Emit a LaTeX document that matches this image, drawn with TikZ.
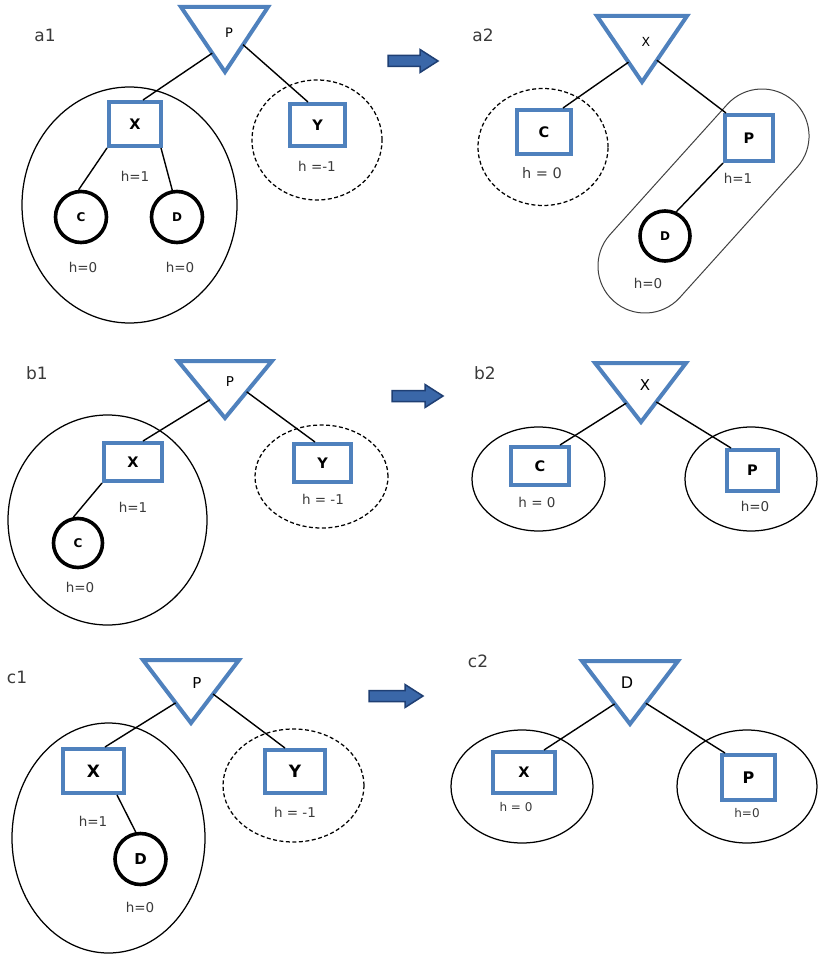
\documentclass[tikz,border=0pt]{standalone}
\usepackage{fontspec}
\setmainfont{DejaVu Sans}
\usetikzlibrary{calc,shapes.geometric}
\definecolor{tblue}{HTML}{4F81BD}
\definecolor{adark}{HTML}{1F3F73}
\definecolor{afill}{HTML}{3A67A8}
\definecolor{lbl}{HTML}{3A3A3A}
\newcommand\fsz[1]{\fontsize{#1}{#1}\selectfont}
\begin{document}
\begin{tikzpicture}[x=1pt,y=-1pt,
  box/.style={draw=tblue, line width=4pt, rectangle, inner sep=0pt, font=\bfseries\fsz{14.5}},
  leaf/.style={draw=black, line width=3.6pt, circle, inner sep=0pt, font=\bfseries\fsz{12}},
  grp/.style={draw=black, line width=1.25pt, ellipse, inner sep=0pt},
  dgrp/.style={grp, dash pattern=on 4pt off 2.5pt},
  tri/.style={draw=tblue, line width=4pt, line join=miter},
  conn/.style={draw=black, line width=1.4pt},
  hl/.style={text=lbl, font=\fsz{13.5}, inner sep=0pt},
  hs/.style={text=lbl, font=\fsz{12}, inner sep=0pt},
  pl/.style={text=lbl, font=\fsz{17}, inner sep=0pt},
  tl/.style={font=\fsz{13}, inner sep=0pt},
  barrow/.style={draw=adark, fill=afill, line width=1.5pt, line join=miter}
]
\useasboundingbox (0,0) rectangle (830,963);

% ================= a1 =================
\node[pl] (aalab) at (45,35) {a1};
\coordinate (aal) at (181,7); \coordinate (aar) at (268,7); \coordinate (aaa) at (225,72);
\draw[tri] (aal) -- (aar) -- (aaa) -- cycle;
\node[tl] (aat) at (229,33) {P};
\node[grp, minimum width=215pt, minimum height=236pt] (aaE) at (129.5,205) {};
\node[dgrp, minimum width=130pt, minimum height=120pt] (aaYE) at (317,140) {};
\node[box, minimum width=52pt, minimum height=44pt] (aaX) at (135,124) {X};
\node[box, minimum width=55pt, minimum height=42pt] (aaY) at (317.5,125) {Y};
\node[leaf, minimum size=51pt] (aaC) at (81,217) {C};
\node[leaf, minimum size=51pt] (aaD) at (177,217) {D};
\draw[conn] ($(aal)!0.71!(aaa)$) -- ([xshift=8pt]aaX.north);
\draw[conn] ($(aar)!0.58!(aaa)$) -- ([xshift=-9.5pt]aaY.north);
\draw[conn] (aaX.south west) -- (aaC.95);
\draw[conn] ([xshift=-2pt]aaX.south east) -- (aaD.100);
\node[hl] (aah1) at (135,176) {h=1};
\node[hl] (aah2) at (317,166) {h =-1};
\node[hl] (aah3) at (83,267) {h=0};
\node[hl] (aah4) at (180,267) {h=0};

% arrow a
\filldraw[barrow] (388,55.5) -- (420,55.5) -- (420,49.5) -- (438,61) -- (420,72.5) -- (420,66.5) -- (388,66.5) -- cycle;

% ================= a2 =================
\node[pl] (ablab) at (483,35) {a2};
\coordinate (abl) at (597,16); \coordinate (abr) at (687,16); \coordinate (aba) at (642,82);
\draw[tri] (abl) -- (abr) -- (aba) -- cycle;
\node[tl, font=\fsz{12.5}] (abt) at (646,42) {X};
\node[dgrp, minimum width=130pt, minimum height=117pt] (abCE) at (543,147) {};
\draw[line width=1pt, draw=black!75, rotate around={48:(703.5,201)}, rounded corners=47pt]
  (569,154) rectangle (838,248);
\node[box, minimum width=54pt, minimum height=44pt] (abC) at (544,132) {C};
\node[box, minimum width=48pt, minimum height=46pt] (abP) at (749,138) {P};
\node[leaf, minimum size=50pt] (abD) at (665,236) {D};
\draw[conn] ($(abl)!0.70!(aba)$) -- ([xshift=19pt]abC.north);
\draw[conn] ($(abr)!0.67!(aba)$) -- ([xshift=3pt]abP.north west);
\draw[conn] (abP.south west) -- (abD.65);
\node[hl, font=\fsz{14.5}] (abh1) at (542,173) {h = 0};
\node[hl] (abh2) at (738,178) {h=1};
\node[hl] (abh3) at (648,283) {h=0};

% ================= b1 =================
\node[pl] (balab) at (37,373) {b1};
\coordinate (bal) at (178,361); \coordinate (bar) at (272,361); \coordinate (baa) at (225,418);
\draw[tri] (bal) -- (bar) -- (baa) -- cycle;
\node[tl, font=\fsz{13.5}] (bat) at (230,382) {P};
\node[grp, minimum width=199pt, minimum height=210pt] (baE) at (107.5,520) {};
\node[dgrp, minimum width=133pt, minimum height=103pt] (baYE) at (321.5,476.5) {};
\node[box, minimum width=58pt, minimum height=38pt] (baX) at (133,462) {X};
\node[box, minimum width=57pt, minimum height=38pt] (baY) at (322.5,463) {Y};
\node[leaf, minimum size=49pt] (baC) at (78,543) {C};
\draw[conn] ($(bal)!0.68!(baa)$) -- ([xshift=10pt]baX.north);
\draw[conn] ($(bar)!0.54!(baa)$) -- ([xshift=-7.5pt]baY.north);
\draw[conn] (baX.south west) -- (baC.100);
\node[hl] (bah1) at (133,507) {h=1};
\node[hl] (bah2) at (323,499) {h = -1};
\node[hl] (bah3) at (80,587) {h=0};

% arrow b
\filldraw[barrow] (392,390.5) -- (425,390.5) -- (425,384.5) -- (443,396) -- (425,407.5) -- (425,401.5) -- (392,401.5) -- cycle;

% ================= b2 =================
\node[pl] (bblab) at (485,373) {b2};
\coordinate (bbl) at (595,363); \coordinate (bbr) at (686,363); \coordinate (bba) at (641,422);
\draw[tri] (bbl) -- (bbr) -- (bba) -- cycle;
\node[tl, font=\fsz{15}] (bbt) at (645,385) {X};
\node[grp, minimum width=133pt, minimum height=104pt] (bbCE) at (538.5,479) {};
\node[grp, minimum width=132pt, minimum height=104pt] (bbPE) at (751,479) {};
\node[box, minimum width=58pt, minimum height=38pt] (bbC) at (540,466) {C};
\node[box, minimum width=51pt, minimum height=41pt] (bbP) at (752.5,470.5) {P};
\draw[conn] ($(bbl)!0.68!(bba)$) -- ([xshift=20pt]bbC.north);
\draw[conn] ($(bbr)!0.66!(bba)$) -- ([xshift=6pt]bbP.north west);
\node[hl] (bbh1) at (537,502) {h = 0};
\node[hl] (bbh2) at (755,506) {h=0};

% ================= c1 =================
\node[pl] (calab) at (17,677) {c1};
\coordinate (cal) at (143,660); \coordinate (car) at (239,660); \coordinate (caa) at (191,723);
\draw[tri] (cal) -- (car) -- (caa) -- cycle;
\node[tl, font=\fsz{15}] (cat) at (197,683) {P};
\node[grp, minimum width=193pt, minimum height=230pt] (caE) at (108.5,838) {};
\node[dgrp, minimum width=141pt, minimum height=113pt] (caYE) at (293.5,785.5) {};
\node[box, minimum width=61pt, minimum height=44pt, font=\bfseries\fsz{17}] (caX) at (93.5,771) {X};
\node[box, minimum width=60pt, minimum height=43pt, font=\bfseries\fsz{17}] (caY) at (295,771.5) {Y};
\node[leaf, minimum size=51pt, font=\bfseries\fsz{15}] (caD) at (140.5,859) {D};
\draw[conn] ($(cal)!0.68!(caa)$) -- ([xshift=11.5pt]caX.north);
\draw[conn] ($(car)!0.54!(caa)$) -- ([xshift=-10pt]caY.north);
\draw[conn] ([xshift=23.5pt]caX.south) -- (caD.100);
\node[hl] (cah1) at (93,821) {h=1};
\node[hl] (cah2) at (295,812) {h = -1};
\node[hl] (cah3) at (140,907) {h=0};

% arrow c
\filldraw[barrow] (369,690.5) -- (405,690.5) -- (405,684.5) -- (423,696) -- (405,707.5) -- (405,701.5) -- (369,701.5) -- cycle;

% ================= c2 =================
\node[pl] (cblab) at (478,661) {c2};
\coordinate (cbl) at (582,661); \coordinate (cbr) at (678,661); \coordinate (cba) at (630,724);
\draw[tri] (cbl) -- (cbr) -- (cba) -- cycle;
\node[tl, font=\fsz{16}] (cbt) at (627,683) {D};
\node[grp, minimum width=142pt, minimum height=113pt] (cbXE) at (522,786.5) {};
\node[grp, minimum width=140pt, minimum height=113pt] (cbPE) at (747,786.5) {};
\node[box, minimum width=62pt, minimum height=41pt] (cbX) at (524,772.5) {X};
\node[box, minimum width=53pt, minimum height=45pt, font=\bfseries\fsz{16}] (cbP) at (748.5,777.5) {P};
\draw[conn] ($(cbl)!0.68!(cba)$) -- ([xshift=20pt]cbX.north);
\draw[conn] ($(cbr)!0.67!(cba)$) -- ([xshift=5pt]cbP.north west);
\node[hs] (cbh1) at (516,807) {h = 0};
\node[hs] (cbh2) at (747,813) {h=0};
\end{tikzpicture}
\end{document}
